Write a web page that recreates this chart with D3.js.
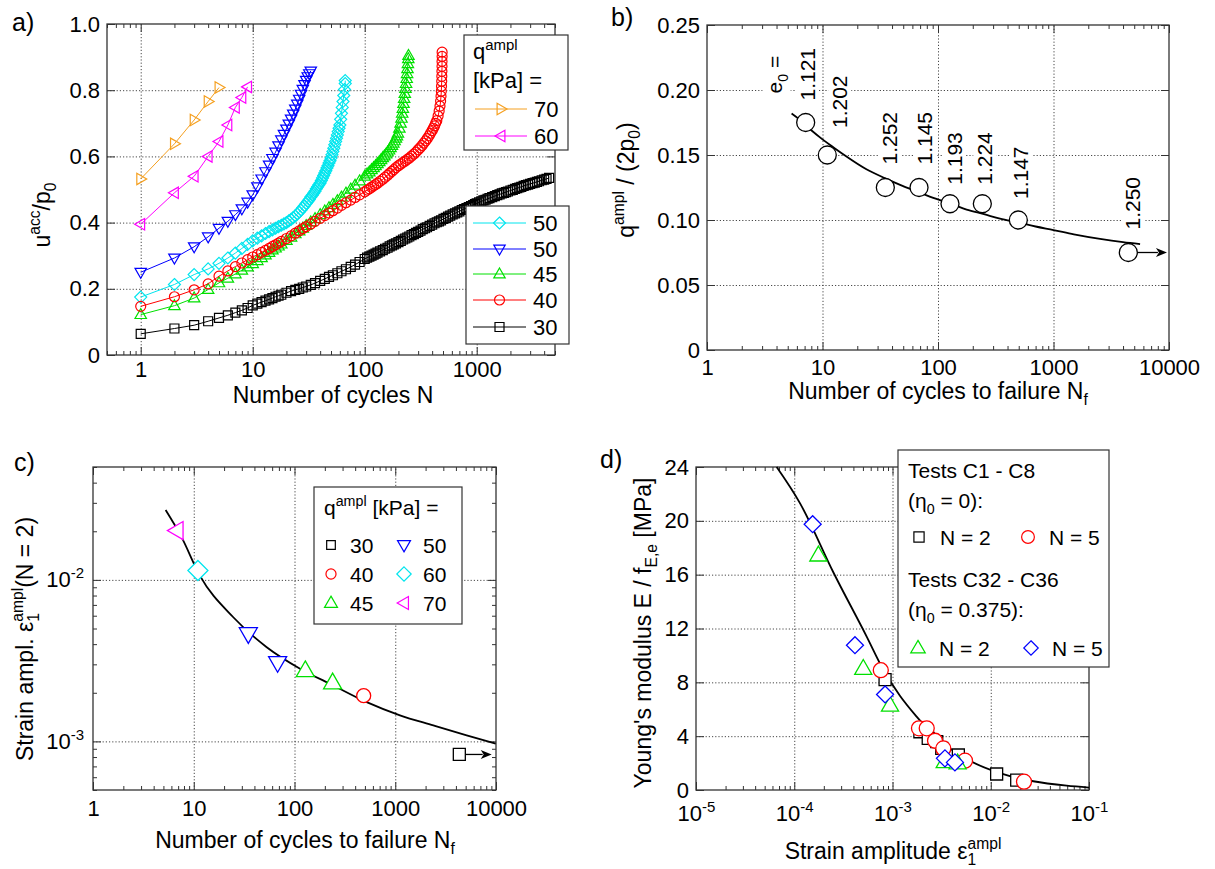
<!DOCTYPE html>
<html>
<head>
<meta charset="utf-8">
<script src="https://cdn.jsdelivr.net/npm/d3@7"></script>
<style>
  body { margin: 0; background: #fff; }
  svg text { font-family: "Liberation Sans", Arial, Helvetica, sans-serif; fill: #000; }
  .tk text { font-size: 22px; }
  .grid line { stroke: #333; stroke-width: 0.9; stroke-dasharray: 1.2 2; }
</style>
</head>
<body>
<svg id="fig" width="1215" height="869"></svg>
<script>
// ---------- a) accumulated pore pressure vs. N, one series per q_ampl [kPa]
const s70 = [[1,0.532],[2,0.638],[3,0.710],[4,0.766],[5,0.808]];
const s60 = [[1,0.395],[2,0.490],[3,0.540],[4,0.600],[5,0.645],[6,0.695],[7,0.748],[8,0.778],[9,0.810]];
const s50c = [[1,0.175],[2,0.213],[3,0.243],[4,0.260],[5,0.277],[6,0.293],[7,0.308],[8,0.322],[9,0.334],[10,0.345],
  [11,0.353],[12,0.360],[13,0.367],[14,0.373],[15,0.378],[16,0.383],[17,0.388],[18,0.392],[19,0.396],[20,0.400],
  [21,0.405],[22,0.410],[23,0.415],[24,0.420],[25,0.426],[26,0.432],[27,0.438],[28,0.445],[29,0.451],[30,0.458],
  [31,0.464],[32,0.470],[33,0.477],[34,0.483],[35,0.489],[36,0.495],[37,0.502],[38,0.508],[39,0.514],[40,0.520],
  [41,0.527],[42,0.535],[43,0.542],[44,0.550],[45,0.557],[46,0.565],[47,0.572],[48,0.580],[49,0.587],[50,0.595],
  [51,0.605],[52,0.615],[53,0.625],[54,0.635],[55,0.645],[56,0.655],[57,0.665],[58,0.675],[59,0.685],[60,0.695],
  [61,0.712],[62,0.730],[63,0.748],[64,0.766],[65,0.784],[66,0.802],[67,0.820],[67,0.829]];
const s50b = [[1,0.250],[2,0.293],[3,0.327],[4,0.357],[5,0.383],[6,0.404],[7,0.424],[8,0.442],[9,0.462],[10,0.484],
  [11,0.508],[12,0.532],[13,0.554],[14,0.574],[15,0.594],[16,0.613],[17,0.632],[18,0.650],[19,0.667],[20,0.683],
  [21,0.698],[22,0.713],[23,0.728],[24,0.743],[25,0.758],[26,0.773],[27,0.788],[28,0.803],[29,0.817],[30,0.830],
  [31,0.841],[32,0.850],[33,0.858]];
const s45 = [[1,0.122],[2,0.149],[3,0.172],[4,0.198],[5,0.218],[6,0.232],[7,0.245],[8,0.256],[9,0.266],[10,0.276],
  [11,0.285],[12,0.294],[13,0.302],[14,0.310],[15,0.317],[16,0.323],[17,0.329],[18,0.335],[20,0.346],[22,0.356],
  [24,0.366],[26,0.375],[28,0.383],[30,0.391],[33,0.402],[36,0.412],[40,0.424],[44,0.435],[48,0.445],[52,0.455],
  [57,0.466],[62,0.477],[68,0.489],[75,0.501],[82,0.513],[90,0.526],[100,0.540],[105,0.547],[110,0.553],[115,0.560],
  [120,0.566],[125,0.572],[130,0.578],[135,0.584],[140,0.590],[145,0.596],[150,0.601],[155,0.607],[160,0.613],
  [165,0.619],[170,0.626],[175,0.633],[180,0.640],[185,0.647],[190,0.655],[194,0.662],[198,0.670],[204,0.685],
  [209,0.700],[213,0.715],[216,0.730],[219,0.745],[222,0.760],[225,0.775],[228,0.790],[231,0.805],[234,0.820],
  [237,0.835],[239,0.850],[241,0.865],[243,0.880],[245,0.895],[246,0.905]];
const s40 = [[1,0.147],[2,0.176],[3,0.197],[4,0.215],[5,0.238],[6,0.254],[7,0.267],[8,0.278],[9,0.288],[10,0.296],
  [11,0.303],[12,0.310],[13,0.316],[14,0.322],[15,0.328],[16,0.333],[17,0.338],[18,0.343],[20,0.352],[22,0.360],
  [24,0.368],[26,0.375],[28,0.382],[30,0.388],[33,0.396],[36,0.404],[40,0.413],[44,0.421],[48,0.429],[52,0.436],
  [57,0.444],[62,0.452],[68,0.460],[75,0.468],[82,0.476],[90,0.484],[100,0.493],[105,0.498],[110,0.502],[115,0.507],
  [120,0.511],[125,0.515],[130,0.519],[137,0.525],[145,0.531],[152,0.537],[160,0.543],[167,0.549],[175,0.555],
  [182,0.560],[190,0.566],[200,0.572],[210,0.577],[220,0.582],[230,0.586],[240,0.591],[250,0.595],[262,0.601],
  [275,0.607],[287,0.613],[300,0.620],[312,0.626],[325,0.633],[337,0.640],[350,0.647],[362,0.654],[375,0.662],
  [387,0.670],[400,0.678],[410,0.685],[420,0.692],[430,0.700],[440,0.708],[452,0.722],[462,0.737],[470,0.752],
  [476,0.767],[480,0.782],[483,0.797],[485,0.812],[487,0.827],[488,0.842],[489,0.857],[490,0.872],[490,0.887],
  [491,0.902],[491,0.915]];
const s30 = [[1,0.064],[2,0.080],[3,0.090],[4,0.102],[5,0.112],[6,0.120],[7,0.128],[8,0.135],[9,0.142],[10,0.150],
  [11,0.155],[12,0.160],[13,0.164],[14,0.168],[15,0.172],[16,0.176],[17,0.179],[18,0.182],[20,0.188],[22,0.193],
  [24,0.197],[26,0.200],[28,0.204],[30,0.207],[33,0.212],[36,0.217],[40,0.224],[44,0.230],[48,0.236],[52,0.241],
  [57,0.247],[62,0.253],[68,0.259],[75,0.266],[82,0.273],[90,0.281],[100,0.290],[105,0.294],[110,0.297],[115,0.300],
  [120,0.303],[125,0.306],[130,0.309],[137,0.313],[145,0.317],[152,0.321],[160,0.324],[167,0.328],[175,0.331],
  [182,0.334],[190,0.337],[200,0.341],[210,0.345],[220,0.349],[230,0.352],[240,0.355],[250,0.358],[262,0.362],
  [275,0.365],[287,0.369],[300,0.372],[315,0.376],[330,0.380],[345,0.383],[360,0.386],[380,0.390],[400,0.394],
  [420,0.398],[440,0.401],[460,0.404],[480,0.407],[505,0.411],[530,0.414],[555,0.418],[580,0.421],[610,0.425],
  [640,0.428],[670,0.431],[700,0.434],[735,0.438],[770,0.441],[810,0.444],[850,0.447],[890,0.450],[930,0.453],
  [965,0.456],[1000,0.458],[1050,0.461],[1100,0.464],[1150,0.467],[1200,0.469],[1250,0.472],[1300,0.474],
  [1375,0.477],[1450,0.480],[1525,0.483],[1600,0.485],[1675,0.488],[1750,0.490],[1825,0.492],[1900,0.494],
  [2000,0.497],[2100,0.499],[2200,0.502],[2300,0.504],[2400,0.506],[2500,0.508],[2625,0.511],[2750,0.513],
  [2875,0.515],[3000,0.517],[3150,0.519],[3300,0.521],[3450,0.523],[3600,0.525],[3800,0.528],[4000,0.530],
  [4200,0.532],[4430,0.535]];

// ---------- b) q_ampl/(2p0) vs. cycles to failure
const nfB = [7.15, 11, 35, 68.5, 127, 242, 496, 4445];
const qB = [0.175, 0.150, 0.125, 0.125, 0.1125, 0.1125, 0.100, 0.075];
const e0B = ['1.121', '1.202', '1.252', '1.145', '1.193', '1.224', '1.147', '1.250'];
const fitB = [[5.4,0.182],[6.4,0.177],[8,0.169],[10,0.162],[12.4,0.156],[16,0.149],[24,0.139],[35,0.132],[47,0.127],
  [70,0.121],[91,0.117],[130,0.1125],[177,0.108],[250,0.1045],[344,0.101],[500,0.098],[700,0.095],[1000,0.0923],
  [1500,0.089],[2530,0.0855],[4000,0.083],[5620,0.0815]];
const arrowEndB = 9600;

// ---------- c) strain amplitude at N = 2 vs. cycles to failure
const qC = [70, 60, 50, 50, 45, 45, 40, 30];
const nfC = [6.8, 11, 34.8, 68, 128, 239, 486, 4325];
const epsC = [0.0202, 0.01143, 0.00463, 0.00307, 0.00275, 0.00231, 0.00192, 0.00083];
const fitC = [[5.26,0.0271],[7.5,0.0186],[11.5,0.01063],[24.7,0.00587],[53,0.00383],[113.5,0.00282],[243,0.00222],
  [521,0.00175],[1114,0.00145],[2388,0.001255],[5117,0.00109],[9930,0.00097]];
const arrowEndC = 9060;

// ---------- d) Young's modulus vs. strain amplitude
const dC1N2 = [[8.4e-4,8.2],[1.9e-3,4.33],[2.31e-3,3.84],[2.82e-3,3.59],[3.17e-3,3.1],[4.68e-3,2.6],[0.01148,1.19],[0.01837,0.74]];
const dC1N5 = [[7.6e-4,8.9],[1.86e-3,4.58],[2.23e-3,4.58],[2.71e-3,3.66],[3.29e-3,3.09],[5.47e-3,2.18],[0.0218,0.62]];
const dC32N2 = [[1.76e-4,17.45],[5.04e-4,9.03],[9.44e-4,6.3],[3.4e-3,2.1],[4.6e-3,2.0]];
const dC32N5 = [[1.54e-4,19.75],[4.15e-4,10.76],[8.4e-4,7.1],[3.42e-3,2.35],[4.32e-3,2.05]];
const fitD = [[6.62e-5,24],[1.146e-4,21.3],[2.49e-4,16.2],[5.46e-4,11.4],[8.05e-4,8.95],[1.19e-3,7.0],[1.76e-3,5.45],
  [2.6e-3,4.1],[5.69e-3,2.3],[0.0124,1.25],[0.0271,0.65],[0.0593,0.32],[0.1,0.18]];

const svg = d3.select('#fig');

function shape(type, r) {
  switch (type) {
    case 'square': return `M${-r},${-r}H${r}V${r}H${-r}Z`;
    case 'circle': return `M${r},0A${r},${r} 0 1,1 ${-r},0A${r},${r} 0 1,1 ${r},0Z`;
    case 'diamond': return `M0,${-r}L${r},0L0,${r}L${-r},0Z`;
    case 'up': return `M0,${-r}L${r * 0.95},${r * 0.65}L${-r * 0.95},${r * 0.65}Z`;
    case 'down': return `M0,${r}L${r * 0.95},${-r * 0.65}L${-r * 0.95},${-r * 0.65}Z`;
    case 'right': return `M${r},0L${-r * 0.65},${-r * 0.95}L${-r * 0.65},${r * 0.95}Z`;
    case 'left': return `M${-r},0L${r * 0.65},${-r * 0.95}L${r * 0.65},${r * 0.95}Z`;
  }
}

function mark(g, type, cx, cy, r, color, fill) {
  g.append('path').attr('d', shape(type, r)).attr('transform', `translate(${cx},${cy})`)
    .attr('fill', fill || 'none').attr('stroke', color).attr('stroke-width', 1.2);
}

// text with sub/superscripts
function rich(t, parts, fs) {
  let cur = 0;
  for (const p of parts) {
    const off = p.s === 'sup' ? -fs * 0.42 : p.s === 'sub' ? fs * 0.28 : 0;
    const ts = t.append('tspan').attr('font-size', p.s ? fs * 0.68 : fs).attr('dy', off - cur).text(p.t);
    if (p.back) ts.attr('dx', -p.back);
    cur = off;
  }
  return t;
}

function supTen(sel) {
  sel.selectAll('.tick text').each(function (d) {
    const e = Math.round(Math.log10(d));
    const t = d3.select(this).text('10');
    t.append('tspan').attr('font-size', 15).attr('dy', -9).text(e < 0 ? '-' + (-e) : e);
  });
}

const isDecade = v => Math.abs(Math.log10(v) - Math.round(Math.log10(v))) < 1e-6;

function axes(x, y, o) {
  const [x0, x1] = x.range(), [yb, yt] = y.range();
  const g = svg.append('g');
  const strip = s => s.select('.domain').remove();
  g.append('g').attr('class', 'grid').attr('transform', `translate(0,${yb})`)
    .call(d3.axisBottom(x).tickValues(o.xGrid).tickSize(-(yb - yt)).tickFormat('')).call(strip);
  g.append('g').attr('class', 'grid').attr('transform', `translate(${x0},0)`)
    .call(d3.axisLeft(y).tickValues(o.yGrid).tickSize(-(x1 - x0)).tickFormat('')).call(strip);

  const xMinor = o.xLog ? x.ticks().filter(v => !isDecade(v)) : [];
  const yMinor = o.yLog ? y.ticks().filter(v => !isDecade(v)) : [];

  const bx = g.append('g').attr('class', 'tk').attr('transform', `translate(0,${yb})`)
    .call(d3.axisBottom(x).tickValues(o.xMajor).tickSizeInner(-8).tickSizeOuter(0).tickPadding(o.xPad).tickFormat(o.xFmt))
    .call(strip);
  if (o.xSup) supTen(bx);
  g.append('g').attr('transform', `translate(0,${yb})`)
    .call(d3.axisBottom(x).tickValues(xMinor).tickSize(-4).tickFormat('')).call(strip);
  g.append('g').attr('transform', `translate(0,${yt})`)
    .call(d3.axisTop(x).tickValues(o.xMajor).tickSize(-8).tickFormat('')).call(strip);
  g.append('g').attr('transform', `translate(0,${yt})`)
    .call(d3.axisTop(x).tickValues(xMinor).tickSize(-4).tickFormat('')).call(strip);

  const ly = g.append('g').attr('class', 'tk').attr('transform', `translate(${x0},0)`)
    .call(d3.axisLeft(y).tickValues(o.yMajor).tickSizeInner(-8).tickSizeOuter(0).tickPadding(o.yPad).tickFormat(o.yFmt))
    .call(strip);
  if (o.ySup) supTen(ly);
  g.append('g').attr('transform', `translate(${x0},0)`)
    .call(d3.axisLeft(y).tickValues(yMinor).tickSize(-4).tickFormat('')).call(strip);
  g.append('g').attr('transform', `translate(${x1},0)`)
    .call(d3.axisRight(y).tickValues(o.yMajor).tickSize(-8).tickFormat('')).call(strip);
  g.append('g').attr('transform', `translate(${x1},0)`)
    .call(d3.axisRight(y).tickValues(yMinor).tickSize(-4).tickFormat('')).call(strip);

  g.selectAll('.tick line').attr('stroke', '#333');
  g.selectAll('.tk').attr('font-size', null).attr('font-family', null);
  g.append('rect').attr('x', x0).attr('y', yt).attr('width', x1 - x0).attr('height', yb - yt)
    .attr('fill', 'none').attr('stroke', '#333').attr('stroke-width', 1.3);
}

function title(x, y, parts, rotate, fs) {
  const t = svg.append('text').attr('text-anchor', 'middle')
    .attr('transform', `translate(${x},${y})` + (rotate ? ' rotate(-90)' : ''));
  rich(t, parts, fs || 23);
}

function panelLabel(x, y, s) {
  svg.append('text').attr('x', x).attr('y', y).attr('font-size', 25).text(s);
}

const plain = d => String(d);

// ================= panel a
const xA = d3.scaleLog().domain([0.5, 5000]).range([107, 555]);
const yA = d3.scaleLinear().domain([0, 1]).range([355, 24]);
axes(xA, yA, {
  xLog: true, xMajor: [1, 10, 100, 1000], xGrid: [1, 10, 100, 1000], xPad: 6, xFmt: plain,
  yMajor: [0, 0.2, 0.4, 0.6, 0.8, 1.0], yGrid: [0.2, 0.4, 0.6, 0.8], yPad: 7,
  yFmt: d => d === 0 ? '0' : d.toFixed(1)
});
const seriesA = [
  { d: s70, c: '#f5a020', m: 'right', r: 6, label: '70' },
  { d: s60, c: '#ff00ff', m: 'left', r: 6, label: '60' },
  { d: s50c, c: '#00e5ee', m: 'diamond', r: 6, label: '50' },
  { d: s50b, c: '#0000ff', m: 'down', r: 6, label: '50' },
  { d: s45, c: '#00e000', m: 'up', r: 6, label: '45' },
  { d: s40, c: '#ff0000', m: 'circle', r: 5, label: '40' },
  { d: s30, c: '#000000', m: 'square', r: 4.5, label: '30' }
];
const lineA = d3.line().x(d => xA(d[0])).y(d => yA(d[1]));
const gA = svg.append('g');
seriesA.forEach(s => {
  gA.append('path').datum(s.d).attr('d', lineA).attr('fill', 'none').attr('stroke', s.c).attr('stroke-width', 1);
  gA.append('g').selectAll('path').data(s.d).join('path')
    .attr('d', shape(s.m, s.r))
    .attr('transform', d => `translate(${xA(d[0])},${yA(d[1])})`)
    .attr('fill', 'none').attr('stroke', s.c).attr('stroke-width', 1.2);
});
// legends of a
const legA = svg.append('g');
legA.append('rect').attr('x', 464).attr('y', 35).attr('width', 104).attr('height', 115)
  .attr('fill', '#fff').attr('stroke', '#333').attr('stroke-width', 1.2);
rich(legA.append('text').attr('x', 473).attr('y', 59), [{ t: 'q' }, { t: 'ampl', s: 'sup' }], 22);
legA.append('text').attr('x', 473).attr('y', 88).attr('font-size', 22).text('[kPa] =');
[[seriesA[0], 109], [seriesA[1], 136]].forEach(([s, yy]) => {
  legA.append('line').attr('x1', 475).attr('x2', 527).attr('y1', yy).attr('y2', yy).attr('stroke', s.c);
  mark(legA, s.m, 501, yy, s.r, s.c);
  legA.append('text').attr('x', 534).attr('y', yy).attr('dy', '0.36em').attr('font-size', 22).text(s.label);
});
legA.append('rect').attr('x', 466).attr('y', 206).attr('width', 103).attr('height', 138)
  .attr('fill', '#fff').attr('stroke', '#333').attr('stroke-width', 1.2);
[[2, 223], [3, 249], [4, 274], [5, 300], [6, 327]].forEach(([i, yy]) => {
  const s = seriesA[i];
  legA.append('line').attr('x1', 473).attr('x2', 526).attr('y1', yy).attr('y2', yy).attr('stroke', s.c);
  mark(legA, s.m, 499.5, yy, s.r, s.c);
  legA.append('text').attr('x', 533).attr('y', yy).attr('dy', '0.36em').attr('font-size', 22).text(s.label);
});
panelLabel(12, 31, 'a)');
title(50, 215, [{ t: 'u' }, { t: 'acc', s: 'sup' }, { t: '/p' }, { t: '0', s: 'sub' }], true);
title(333, 403, [{ t: 'Number of cycles N' }]);

// ================= panel b
const xB = d3.scaleLog().domain([1, 10000]).range([707, 1169]);
const yB = d3.scaleLinear().domain([0, 0.25]).range([350, 25]);
axes(xB, yB, {
  xLog: true, xMajor: [1, 10, 100, 1000, 10000], xGrid: [10, 100, 1000], xPad: 9, xFmt: plain,
  yMajor: [0, 0.05, 0.10, 0.15, 0.20, 0.25], yGrid: [0.05, 0.10, 0.15, 0.20], yPad: 7,
  yFmt: d => d === 0 ? '0' : d.toFixed(2)
});
const labDx = [9, 20, 12, 13, 12, 10, 10, 12];
const labDy = [-22, -27, -23, -23, -19, -19, -21, -23];
function boxedRotLabel(x, y, parts) {
  const g = svg.append('g').attr('transform', `translate(${x},${y}) rotate(-90)`);
  const t = rich(g.append('text'), parts, 21);
  const bb = t.node().getBBox();
  g.insert('rect', 'text').attr('x', bb.x - 2).attr('y', bb.y).attr('width', bb.width + 4)
    .attr('height', bb.height).attr('fill', '#fff');
}
nfB.forEach((n, i) => boxedRotLabel(xB(n) + labDx[i], yB(qB[i]) + labDy[i], [{ t: e0B[i] }]));
boxedRotLabel(xB(nfB[0]) - 24, yB(qB[0]) - 29, [{ t: 'e' }, { t: '0', s: 'sub' }, { t: ' =' }]);
const lineB = d3.line().x(d => xB(d[0])).y(d => yB(d[1])).curve(d3.curveMonotoneX);
svg.append('path').datum(fitB).attr('d', lineB).attr('fill', 'none').attr('stroke', '#000').attr('stroke-width', 1.8);
function arrow(x1, x2, y) {
  svg.append('line').attr('x1', x1).attr('x2', x2 - 9).attr('y1', y).attr('y2', y).attr('stroke', '#000').attr('stroke-width', 1.3);
  svg.append('path').attr('d', `M${x2},${y}L${x2 - 11},${y - 4.5}L${x2 - 8},${y}L${x2 - 11},${y + 4.5}Z`).attr('fill', '#000');
}
const lastB = nfB.length - 1;
arrow(xB(nfB[lastB]), xB(arrowEndB), yB(qB[lastB]));
svg.append('g').selectAll('path').data(nfB).join('path')
  .attr('d', shape('circle', 9))
  .attr('transform', (d, i) => `translate(${xB(d)},${yB(qB[i])})`)
  .attr('fill', '#fff').attr('stroke', '#000').attr('stroke-width', 1.3);
panelLabel(611, 26, 'b)');
title(634, 180, [{ t: 'q' }, { t: 'ampl', s: 'sup' }, { t: ' / (2p' }, { t: '0', s: 'sub' }, { t: ')' }], true);
title(938, 399, [{ t: 'Number of cycles to failure N' }, { t: 'f', s: 'sub' }]);

// ================= panel c
const xC = d3.scaleLog().domain([1, 10000]).range([93, 496]);
const yC = d3.scaleLog().domain([5e-4, 5e-2]).range([790, 467]);
axes(xC, yC, {
  xLog: true, yLog: true, xMajor: [1, 10, 100, 1000, 10000], xGrid: [10, 100, 1000], xPad: 10, xFmt: plain,
  yMajor: [1e-3, 1e-2], yGrid: [1e-3, 1e-2], yPad: 9, yFmt: plain, ySup: true
});
const styleQ = {
  30: { m: 'square', c: '#000', r: 6 }, 40: { m: 'circle', c: '#ff0000', r: 7 }, 45: { m: 'up', c: '#00e000', r: 9.5 },
  50: { m: 'down', c: '#0000ff', r: 9.5 }, 60: { m: 'diamond', c: '#00e5ee', r: 10 }, 70: { m: 'left', c: '#ff00ff', r: 9.5 }
};
const lineC = d3.line().x(d => xC(d[0])).y(d => yC(d[1])).curve(d3.curveMonotoneX);
svg.append('path').datum(fitC).attr('d', lineC).attr('fill', 'none').attr('stroke', '#000').attr('stroke-width', 1.8);
const lastC = nfC.length - 1;
arrow(xC(nfC[lastC]), xC(arrowEndC), yC(epsC[lastC]));
svg.append('g').selectAll('path').data(nfC).join('path')
  .attr('d', (d, i) => shape(styleQ[qC[i]].m, styleQ[qC[i]].r))
  .attr('transform', (d, i) => `translate(${xC(d)},${yC(epsC[i])})`)
  .attr('fill', '#fff').attr('stroke', (d, i) => styleQ[qC[i]].c).attr('stroke-width', 1.3);
const legC = svg.append('g');
legC.append('rect').attr('x', 314).attr('y', 487).attr('width', 148).attr('height', 137)
  .attr('fill', '#fff').attr('stroke', '#333').attr('stroke-width', 1.2);
rich(legC.append('text').attr('x', 324).attr('y', 515), [{ t: 'q' }, { t: 'ampl', s: 'sup' }, { t: ' [kPa] =' }], 21);
[[30, 0, 0], [40, 0, 1], [45, 0, 2], [50, 1, 0], [60, 1, 1], [70, 1, 2]].forEach(([q, col, row]) => {
  const s = styleQ[q], yy = 545 + row * 29, xm = col ? 404 : 331;
  mark(legC, s.m, xm, yy, s.r * 0.72, s.c, '#fff');
  legC.append('text').attr('x', xm + 19).attr('y', yy).attr('dy', '0.36em').attr('font-size', 21).text(q);
});
panelLabel(14, 471, 'c)');
title(33, 639, [{ t: 'Strain ampl. ε' }, { t: '1', s: 'sub' }, { t: 'ampl', s: 'sup', back: 8.7 }, { t: '(N = 2)' }], true);
title(305, 848, [{ t: 'Number of cycles to failure N' }, { t: 'f', s: 'sub' }]);

// ================= panel d
const xD = d3.scaleLog().domain([1e-5, 1e-1]).range([696, 1089]);
const yD = d3.scaleLinear().domain([0, 24]).range([790, 467]);
axes(xD, yD, {
  xLog: true, xMajor: [1e-5, 1e-4, 1e-3, 1e-2, 1e-1], xGrid: [1e-4, 1e-3, 1e-2], xPad: 15, xFmt: plain, xSup: true,
  yMajor: [0, 4, 8, 12, 16, 20, 24], yGrid: [4, 8, 12, 16, 20], yPad: 7, yFmt: plain
});
const lineD = d3.line().x(d => xD(d[0])).y(d => yD(d[1])).curve(d3.curveMonotoneX);
svg.append('path').datum(fitD).attr('d', lineD).attr('fill', 'none').attr('stroke', '#000').attr('stroke-width', 1.8);
const setsD = [
  { d: dC1N2, m: 'square', c: '#000', r: 6 },
  { d: dC1N5, m: 'circle', c: '#ff0000', r: 7.5 },
  { d: dC32N2, m: 'up', c: '#00e000', r: 9 },
  { d: dC32N5, m: 'diamond', c: '#0000ff', r: 8.5 }
];
setsD.forEach(s => {
  svg.append('g').selectAll('path').data(s.d).join('path')
    .attr('d', shape(s.m, s.r))
    .attr('transform', d => `translate(${xD(d[0])},${yD(d[1])})`)
    .attr('fill', '#fff').attr('stroke', s.c).attr('stroke-width', 1.3);
});
const legD = svg.append('g');
legD.append('rect').attr('x', 898).attr('y', 450).attr('width', 211).attr('height', 217)
  .attr('fill', '#fff').attr('stroke', '#333').attr('stroke-width', 1.2);
legD.append('text').attr('x', 908).attr('y', 478).attr('font-size', 21).text('Tests C1 - C8');
rich(legD.append('text').attr('x', 908).attr('y', 508), [{ t: '(η' }, { t: '0', s: 'sub' }, { t: ' = 0):' }], 21);
legD.append('text').attr('x', 908).attr('y', 587).attr('font-size', 21).text('Tests C32 - C36');
rich(legD.append('text').attr('x', 908).attr('y', 617), [{ t: '(η' }, { t: '0', s: 'sub' }, { t: ' = 0.375):' }], 21);
[[0, 919, 537], [1, 1028, 537], [2, 918, 648], [3, 1031, 648]].forEach(([i, xm, yy]) => {
  const s = setsD[i];
  mark(legD, s.m, xm, yy, s.r * 0.85, s.c, '#fff');
  legD.append('text').attr('x', xm + 21).attr('y', yy).attr('dy', '0.36em').attr('font-size', 21)
    .text(i % 2 ? 'N = 5' : 'N = 2');
});
panelLabel(600, 468, 'd)');
title(651, 633, [{ t: 'Young\'s modulus E / f' }, { t: 'E,e', s: 'sub' }, { t: ' [MPa]' }], true);
title(893, 859, [{ t: 'Strain amplitude ε' }, { t: '1', s: 'sub' }, { t: 'ampl', s: 'sup', back: 8.7 }]);
</script>
</body>
</html>
